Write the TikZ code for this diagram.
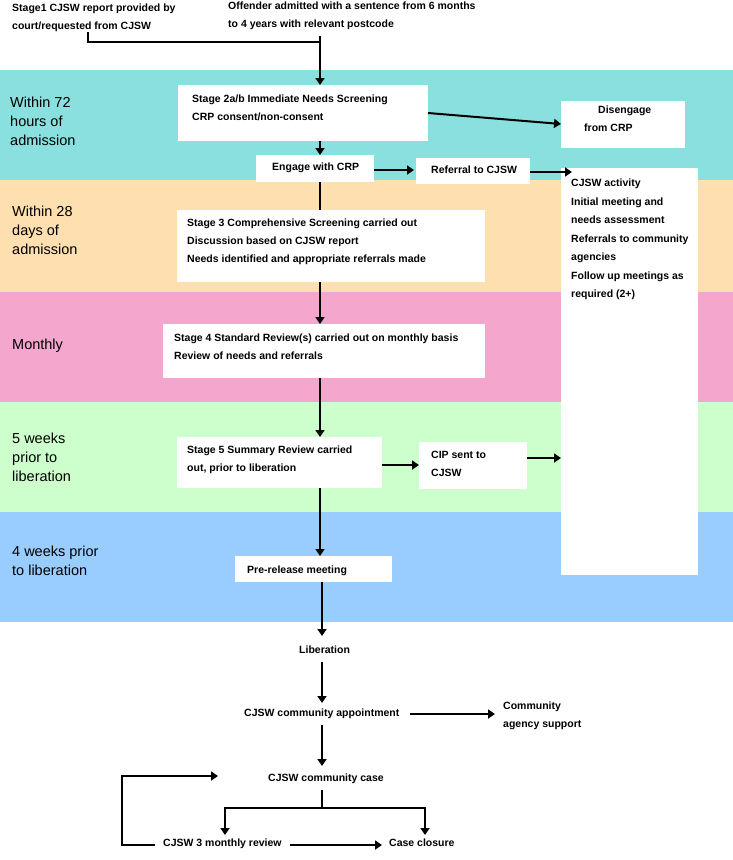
\documentclass[tikz,border=0pt]{standalone}
\usepackage{fontspec}
\setmainfont{Liberation Sans}
\usetikzlibrary{arrows.meta}
\definecolor{cyanb}{HTML}{8ADFDF}
\definecolor{peachb}{HTML}{FDDFB0}
\definecolor{pinkb}{HTML}{F4A6CC}
\definecolor{greenb}{HTML}{CCFFCC}
\definecolor{blueb}{HTML}{99CCFF}
\tikzset{
 txt/.style={anchor=north west,align=left,inner sep=0pt,font=\fontsize{10.5}{18}\selectfont\bfseries},
 band/.style={anchor=north west,align=left,inner sep=0pt,font=\fontsize{14.5}{19}\selectfont},
 arr/.style={line width=2pt,-{Triangle[length=7pt,width=9pt]}},
 ln/.style={line width=2pt}
}
\begin{document}
\begin{tikzpicture}[x=1pt,y=-1pt]
\useasboundingbox (0,0) rectangle (733,860);
\fill[cyanb] (0,70) rectangle (733,180);
\fill[peachb] (0,180) rectangle (733,292);
\fill[pinkb] (0,292) rectangle (733,402);
\fill[greenb] (0,402) rectangle (733,512);
\fill[blueb] (0,512) rectangle (733,622);
% band labels
\node[band] (b1) at (10,97) {Within 72\\hours of\\admission};
\node[band] (b2) at (12,206) {Within 28\\days of\\admission};
\node[band] (b3) at (12,339) {Monthly};
\node[band] (b4) at (12,433) {5 weeks\\prior to\\liberation};
\node[band] (b5) at (12,546) {4 weeks prior\\to liberation};
% boxes
\fill[white] (178,85) rectangle (428,141);
\fill[white] (561,101) rectangle (685,148);
\fill[white] (256,155) rectangle (374,182);
\fill[white] (416,158) rectangle (530,184);
\fill[white] (561,168) rectangle (698,575);
\fill[white] (177,210) rectangle (485,282);
\fill[white] (163,324) rectangle (485,378);
\fill[white] (177,437) rectangle (382,488);
\fill[white] (419,442) rectangle (527,489);
\fill[white] (235,556) rectangle (392,582);
% texts
\node[txt] (s1) at (12,4) {Stage1 CJSW report provided by\\court/requested from CJSW};
\node[txt] (off) at (228,2) {Offender admitted with a sentence from 6 months\\to 4 years with relevant postcode};
\node[txt] (s2) at (192,95) {Stage 2a/b Immediate Needs Screening\\CRP consent/non-consent};
\node[txt] (dis) at (598,106) {Disengage\\\hspace*{-14pt}from CRP};
\node[txt] (eng) at (272,163) {Engage with CRP};
\node[txt] (ref) at (431,166) {Referral to CJSW};
\node[txt] (cj) at (571,179) {CJSW activity\\[1pt]Initial meeting and\\needs assessment\\[1pt]Referrals to community\\agencies\\[1pt]Follow up meetings as\\required (2+)};
\node[txt] (s3) at (187,219) {Stage 3 Comprehensive Screening carried out\\Discussion based on CJSW report\\Needs identified and appropriate referrals made};
\node[txt] (s4) at (174,334) {Stage 4 Standard Review(s) carried out on monthly basis\\Review of needs and referrals};
\node[txt] (s5) at (187,446) {Stage 5 Summary Review carried\\out, prior to liberation};
\node[txt] (cip) at (431,451) {CIP sent to\\CJSW};
\node[txt] (pre) at (247,566) {Pre-release meeting};
\node[txt] (lib) at (299,646) {Liberation};
\node[txt] (app) at (244,709) {CJSW community appointment};
\node[txt] (agy) at (503,702) {Community\\agency support};
\node[txt] (case) at (268,774) {CJSW community case};
\node[txt] (rev) at (163,839) {CJSW 3 monthly review};
\node[txt] (clo) at (389,839) {Case closure};
% connectors
\coordinate (j1) at (88,42);
\draw[ln] (88,32) -- (j1) -- (320,42);
\draw[arr] (320,36) -- (320,85);
\draw[arr] (428,113) -- (561,124);
\draw[arr] (320,141) -- (320,155);
\draw[arr] (374,170) -- (414,170);
\draw[arr] (530,172) -- (572,172);
\draw[ln] (320,182) -- (320,210);
\draw[arr] (320,282) -- (320,324);
\draw[arr] (320,378) -- (320,437);
\draw[arr] (382,465) -- (419,465);
\draw[arr] (527,458) -- (561,458);
\draw[arr] (320,488) -- (320,556);
\draw[arr] (322,582) -- (322,636);
\draw[arr] (322,662) -- (322,703);
\draw[arr] (410,714) -- (495,714);
\draw[arr] (322,725) -- (322,766);
\draw[ln] (322,790) -- (322,808);
\draw[ln] (224,808) -- (426,808);
\draw[arr] (225,808) -- (225,835);
\draw[arr] (425,808) -- (425,835);
\draw[arr] (155,845) -- (122,845) -- (122,776) -- (218,776);
\draw[arr] (290,845) -- (382,845);
\end{tikzpicture}
\end{document}
